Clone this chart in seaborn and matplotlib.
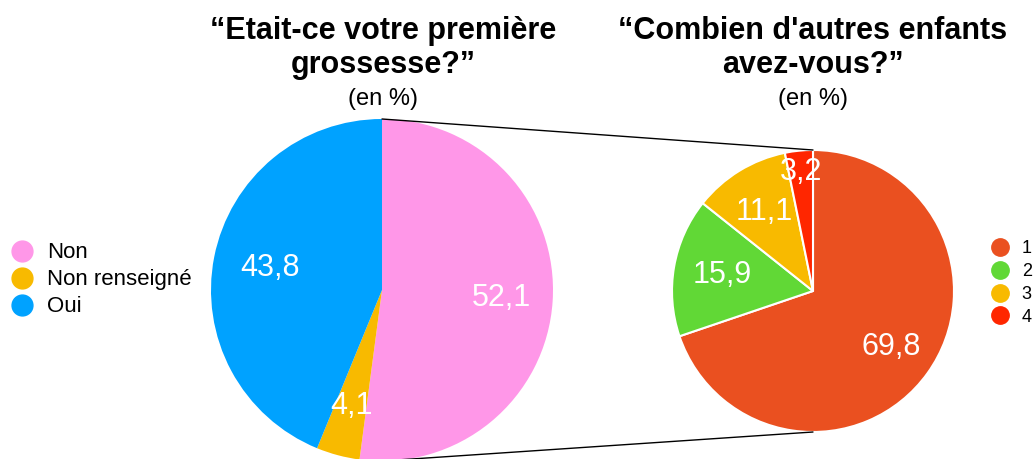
import seaborn as sns
import matplotlib.pyplot as plt
import numpy as np
from matplotlib.patches import ConnectionPatch
from matplotlib.lines import Line2D

# left pie: first pregnancy?
left_labels = ['Non', 'Non renseigné', 'Oui']
left_values = [52.1, 4.1, 43.8]
left_colors = ['#FF97E8', '#F8BA00', '#00A2FF']

# right pie: number of other children
right_labels = ['1', '2', '3', '4']
right_values = [69.8, 15.9, 11.1, 3.2]
right_colors = ['#EA5020', '#61D836', '#F8BA00', '#FF2600']

left_title = '“Etait-ce votre première\ngrossesse?”'
right_title = '“Combien d\'autres enfants\navez-vous?”'
subtitle = '(en %)'


def fmt(v):
    return f'{v:.1f}'.replace('.', ',')


def run():
    sns.set_theme(style='white')
    plt.rcParams['font.family'] = ['Liberation Sans', 'DejaVu Sans']
    plt.rcParams['text.color'] = 'black'

    W, H = 1036, 459
    fig = plt.figure(figsize=(W / 100, H / 100), dpi=100)

    # left pie centred at (382, 290), radius 171 px
    ax1 = fig.add_axes([(382 - 171) / W, (H - 290 - 171) / H, 342 / W, 342 / H])
    # right pie centred at (813, 291), radius 141 px
    ax2 = fig.add_axes([(813 - 141) / W, (H - 291 - 141) / H, 282 / W, 282 / H])

    w1, _ = ax1.pie(left_values, colors=left_colors, startangle=90,
                    counterclock=False, wedgeprops=dict(linewidth=0))
    w2, _ = ax2.pie(right_values, colors=right_colors, startangle=90,
                    counterclock=False,
                    wedgeprops=dict(linewidth=1.5, edgecolor='white'))

    for ax, wedges, vals, dist in ((ax1, w1, left_values, [0.7, 0.7, 0.67]),
                                   (ax2, w2, right_values, [0.68, 0.65, 0.66, 0.85])):
        for wd, v, d in zip(wedges, vals, dist):
            ang = np.deg2rad((wd.theta1 + wd.theta2) / 2)
            ax.text(d * np.cos(ang), d * np.sin(ang), fmt(v), color='white',
                    fontsize=22, ha='center', va='center')
        ax.set_xlim(-1, 1)
        ax.set_ylim(-1, 1)
        ax.set_aspect('equal')
        ax.axis('off')

    # connector lines between the two pies
    for y in (1, -1):
        con = ConnectionPatch(xyA=(0, y), coordsA=ax1.transData,
                              xyB=(0, y), coordsB=ax2.transData,
                              color='black', lw=1)
        fig.add_artist(con)

    # titles
    for x, t in ((383, left_title), (813, right_title)):
        fig.text(x / W, 1 - 48 / H, t, ha='center', va='center', fontsize=22,
                 fontweight='bold', linespacing=1.2)
        fig.text(x / W, 1 - 99 / H, subtitle, ha='center', va='center', fontsize=17)

    # legends
    h1 = [Line2D([], [], marker='o', ls='', markersize=15, color=c) for c in left_colors]
    fig.legend(h1, left_labels, loc='center left', bbox_to_anchor=(0.0, 1 - 280 / H),
               frameon=False, fontsize=16, handletextpad=0.52, labelspacing=0.27,
               borderaxespad=0, handlelength=1.2)
    h2 = [Line2D([], [], marker='o', ls='', markersize=12.5, color=c) for c in right_colors]
    fig.legend(h2, right_labels, loc='center left', bbox_to_anchor=(982 / W, 1 - 283 / H),
               frameon=False, fontsize=13, handletextpad=0.6, labelspacing=0.32,
               borderaxespad=0, handlelength=1.2)

    fig.savefig('out.png', dpi=100)


run()
